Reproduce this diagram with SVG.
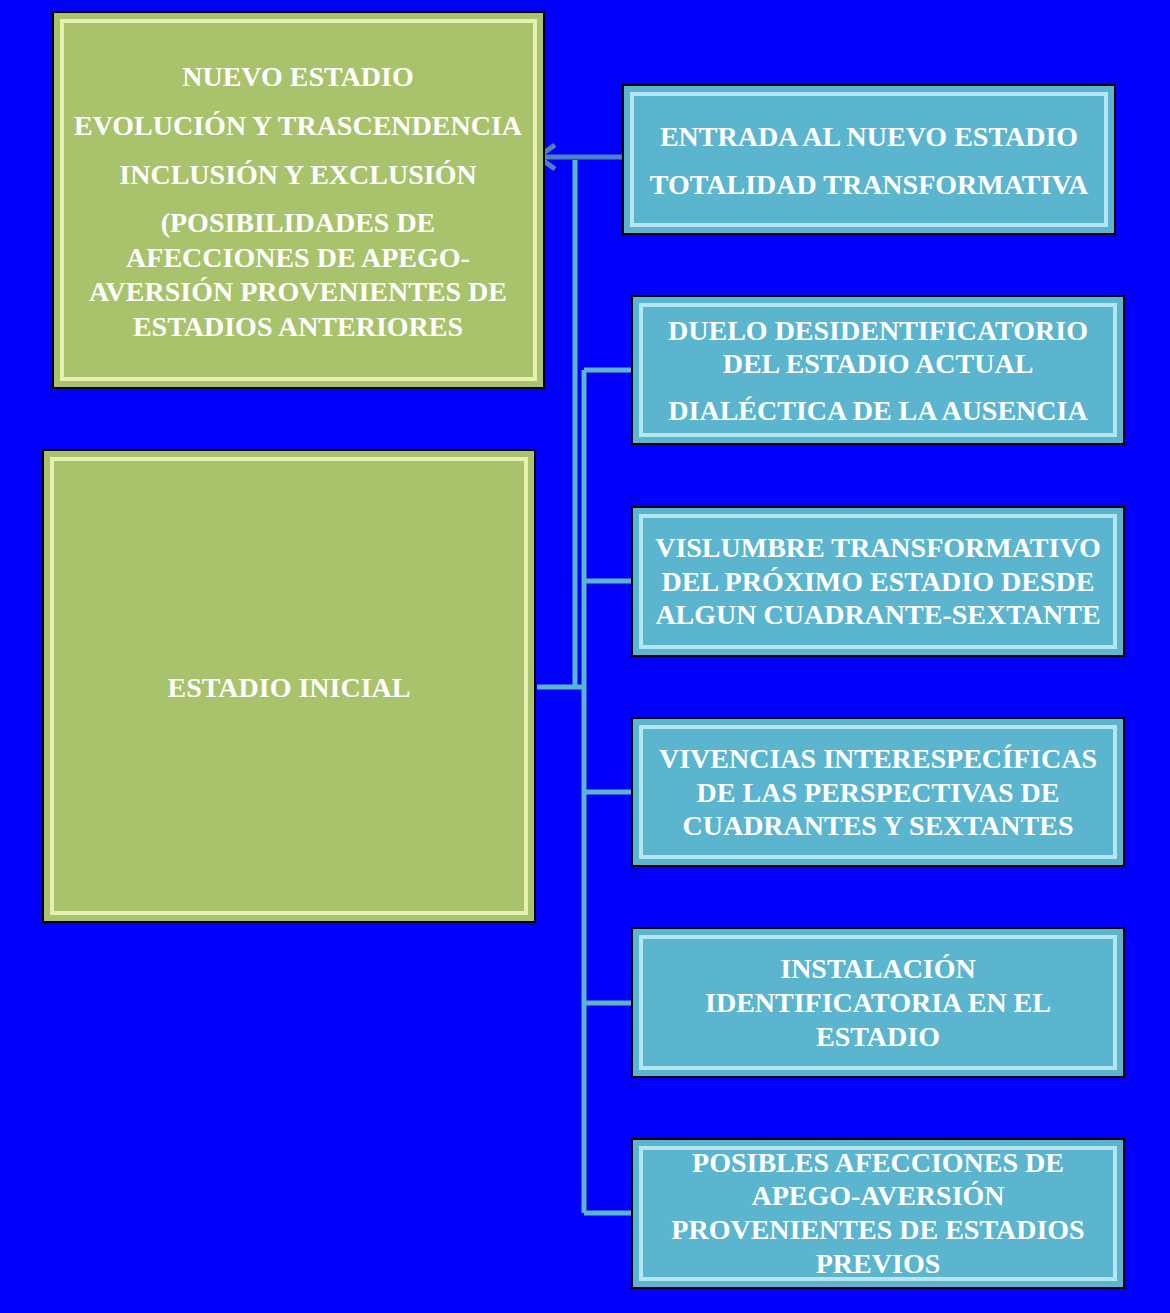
<svg xmlns="http://www.w3.org/2000/svg" width="1170" height="1313" viewBox="0 0 1170 1313">
<style>
.g{fill:#a9c26c;stroke:#000;stroke-width:2}
.b{fill:#5bb5cf;stroke:#000;stroke-width:2}
.gi{fill:none;stroke:#e6f0b0;stroke-width:4}
.bi{fill:none;stroke:#b6e6f2;stroke-width:4}
text{font-family:"Liberation Serif",serif;font-weight:bold;font-size:28px;fill:#fff;text-anchor:middle}
.c{stroke:#5bb5cf;stroke-width:5;fill:none}
</style>
<defs><marker id="ar" markerWidth="8" markerHeight="8" refX="1" refY="4" orient="auto" markerUnits="userSpaceOnUse" viewBox="0 0 8 8"><path d="M7,0 L1,4 L7,8" fill="none" stroke="#4f81bd" stroke-width="1.6"/></marker></defs>
<rect width="1170" height="1313" fill="#0000fa"/>
<g id="connectors">
<path class="c" d="M537,687 H584 M584,370 V1213 M575,687 V160"/>
<path class="c" d="M584,370 H632 M584,581 H632 M584,792 H632 M584,1003 H632 M584,1213 H632"/>
<line x1="632" y1="157" x2="540" y2="157" stroke="#4f81bd" stroke-width="5" marker-end="url(#ar)"/>
<path d="M555,145 L538,157 L555,169" fill="none" stroke="#4f81bd" stroke-width="5"/>
</g>
<g id="n1"><rect class="g" x="53" y="12" width="491" height="376"/><rect class="gi" x="62" y="21" width="473" height="358"/>
<text x="298" y="86">NUEVO ESTADIO</text><text x="298" y="135">EVOLUCIÓN Y TRASCENDENCIA</text><text x="298" y="184">INCLUSIÓN Y EXCLUSIÓN</text><text x="298" y="232">(POSIBILIDADES DE</text><text x="298" y="267">AFECCIONES DE APEGO-</text><text x="298" y="301">AVERSIÓN PROVENIENTES DE</text><text x="298" y="336">ESTADIOS ANTERIORES</text></g>
<g id="n2"><rect class="g" x="43" y="450" width="492" height="472"/><rect class="gi" x="52" y="459" width="474" height="454"/>
<text x="289" y="697">ESTADIO INICIAL</text></g>
<g id="n3"><rect class="b" x="623" y="85" width="492" height="149"/><rect class="bi" x="632" y="94" width="474" height="131"/>
<text x="869" y="146">ENTRADA AL NUEVO ESTADIO</text><text x="869" y="194">TOTALIDAD TRANSFORMATIVA</text></g>
<g id="n4"><rect class="b" x="632" y="296" width="492" height="148"/><rect class="bi" x="641" y="305" width="474" height="130"/>
<text x="878" y="340">DUELO DESIDENTIFICATORIO</text><text x="878" y="373">DEL ESTADIO ACTUAL</text><text x="878" y="420">DIALÉCTICA DE LA AUSENCIA</text></g>
<g id="n5"><rect class="b" x="632" y="507" width="492" height="149"/><rect class="bi" x="641" y="516" width="474" height="131"/>
<text x="878" y="557">VISLUMBRE TRANSFORMATIVO</text><text x="878" y="591">DEL PRÓXIMO ESTADIO DESDE</text><text x="878" y="624">ALGUN CUADRANTE-SEXTANTE</text></g>
<g id="n6"><rect class="b" x="632" y="718" width="492" height="148"/><rect class="bi" x="641" y="727" width="474" height="130"/>
<text x="878" y="768">VIVENCIAS INTERESPECÍFICAS</text><text x="878" y="802">DE LAS PERSPECTIVAS DE</text><text x="878" y="835">CUADRANTES Y SEXTANTES</text></g>
<g id="n7"><rect class="b" x="632" y="928" width="492" height="149"/><rect class="bi" x="641" y="937" width="474" height="131"/>
<text x="878" y="978">INSTALACIÓN</text><text x="878" y="1012">IDENTIFICATORIA EN EL</text><text x="878" y="1046">ESTADIO</text></g>
<g id="n8"><rect class="b" x="632" y="1139" width="492" height="149"/><rect class="bi" x="641" y="1148" width="474" height="131"/>
<text x="878" y="1172">POSIBLES AFECCIONES DE</text><text x="878" y="1205">APEGO-AVERSIÓN</text><text x="878" y="1239">PROVENIENTES DE ESTADIOS</text><text x="878" y="1273">PREVIOS</text></g>
</svg>
